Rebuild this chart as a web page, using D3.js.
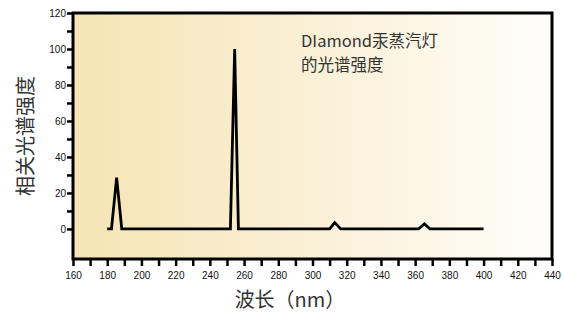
<!DOCTYPE html>
<html>
<head>
<meta charset="utf-8">
<script src="https://cdn.jsdelivr.net/npm/d3@7"></script>
<style>
  body { margin: 0; background: #fff; }
  svg { display: block; }
</style>
</head>
<body>
<svg id="chart" width="564" height="313"></svg>
<script>
// spectrum of the mercury vapour lamp (wavelength nm, relative intensity)
const wavelengths = [180, 182.5, 185.5, 188.5, 252, 254.5, 256.7, 310, 313, 316.5, 362, 365.4, 368.7, 400];
const intensities = [0, 0, 28.5, 0, 0, 100, 0, 0, 3.5, 0, 0, 2.8, 0, 0];
const xTicks = d3.range(160, 441, 10);
const yTicks = d3.range(0, 121, 10);
const titleLines = ["DIamond汞蒸汽灯", "的光谱强度"];

const margin = { top: 13, right: 12, bottom: 54, left: 73 };
const width = 564 - margin.left - margin.right;
const height = 313 - margin.top - margin.bottom;

const svg = d3.select("#chart");

const grad = svg.append("defs").append("linearGradient")
  .attr("id", "bg").attr("x1", "0%").attr("x2", "100%");
grad.append("stop").attr("offset", "0%").attr("stop-color", "#f6e4b4");
grad.append("stop").attr("offset", "50%").attr("stop-color", "#faf0d6");
grad.append("stop").attr("offset", "100%").attr("stop-color", "#fffefb");

const chart = svg.append("g")
  .attr("transform", `translate(${margin.left},${margin.top})`);

const x = d3.scaleLinear().domain([160, 440]).range([0, width]);
const y = d3.scaleLinear().domain([-16.7, 120]).range([height, 0]);

chart.append("rect")
  .attr("width", width).attr("height", height)
  .attr("fill", "url(#bg)");

// x axis
const xAxis = chart.append("g")
  .attr("transform", `translate(0,${height})`)
  .call(d3.axisBottom(x).tickValues(xTicks).tickSize(7)
    .tickFormat(d => d % 20 === 0 ? d : ""));
// y axis
const yAxis = chart.append("g")
  .call(d3.axisLeft(y).tickValues(yTicks).tickSize(6)
    .tickFormat(d => d % 20 === 0 ? d : ""));

[xAxis, yAxis].forEach(a => {
  a.select(".domain").remove();
  a.selectAll(".tick line").attr("stroke", "#000").attr("stroke-width", 2.5);
  a.selectAll(".tick text")
    .attr("font-family", "Liberation Sans, Arial, sans-serif")
    .attr("font-size", 10).attr("fill", "#111");
});
xAxis.selectAll(".tick text").attr("y", 13);
yAxis.selectAll(".tick text").attr("x", -7);

// frame
chart.append("rect")
  .attr("width", width).attr("height", height)
  .attr("fill", "none").attr("stroke", "#000").attr("stroke-width", 3);

// spectrum line
const pts = wavelengths.map((w, i) => [w, intensities[i]]);
chart.append("path")
  .datum(pts)
  .attr("fill", "none")
  .attr("stroke", "#000")
  .attr("stroke-width", 2.8)
  .attr("stroke-linejoin", "miter")
  .attr("d", d3.line().x(d => x(d[0])).y(d => y(d[1])));

// title
const title = chart.append("text")
  .attr("font-family", "Noto Sans CJK SC, sans-serif")
  .attr("font-size", 16.5)
  .attr("fill", "#333");
title.selectAll("tspan")
  .data(titleLines)
  .enter()
  .append("tspan")
  .attr("x", 228)
  .attr("y", (d, i) => 34 + i * 24)
  .text(d => d);

// axis titles
svg.append("text")
  .attr("transform", `translate(33,${margin.top + height / 2}) rotate(-90)`)
  .attr("text-anchor", "middle")
  .attr("font-family", "Noto Sans CJK SC, sans-serif")
  .attr("font-size", 20)
  .attr("fill", "#333")
  .text("相关光谱强度");

svg.append("text")
  .attr("x", 290)
  .attr("y", 307)
  .attr("text-anchor", "middle")
  .attr("font-family", "Noto Sans CJK SC, sans-serif")
  .attr("font-size", 20)
  .attr("fill", "#333")
  .text("波长（nm）");
</script>
</body>
</html>
